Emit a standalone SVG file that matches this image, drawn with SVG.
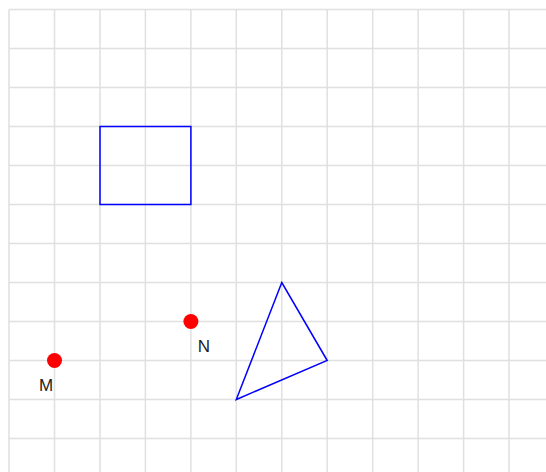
<svg xmlns="http://www.w3.org/2000/svg" width="546" height="472" viewBox="0 0 546 472">
<style>
.g{stroke:#e0e0e0;stroke-width:1.5;fill:none}
.s{stroke:#0000ff;stroke-width:1.5;fill:none}
.p{fill:#ff0000}
.t{font-family:"Liberation Sans",Arial,sans-serif;font-size:17px;fill:#222}
</style>
<rect width="546" height="472" fill="#fff"/>
<g id="grid">
<path class="g" d="M9 9.5V472M54.5 9.5V472M100 9.5V472M145.4 9.5V472M190.9 9.5V472M236.3 9.5V472M281.8 9.5V472M327.2 9.5V472M372.7 9.5V472M418.1 9.5V472M463.6 9.5V472M509 9.5V472"/>
<path class="g" d="M9 9.5H546M9 48.5H546M9 87.5H546M9 126.5H546M9 165.5H546M9 204.5H546M9 243.5H546M9 282.5H546M9 321.5H546M9 360.5H546M9 399.5H546M9 438.5H546"/>
</g>
<g id="rect"><rect class="s" x="100" y="126.5" width="90.9" height="78"/></g>
<g id="triangle"><polygon class="s" points="236.3,399.5 281.8,282.5 327.2,360.5"/></g>
<g id="M"><circle class="p" cx="54.5" cy="360.5" r="7.5"/><text class="t" x="46" y="391" text-anchor="middle">M</text></g>
<g id="N"><circle class="p" cx="190.9" cy="321.5" r="7.5"/><text class="t" x="204" y="352" text-anchor="middle">N</text></g>
</svg>
